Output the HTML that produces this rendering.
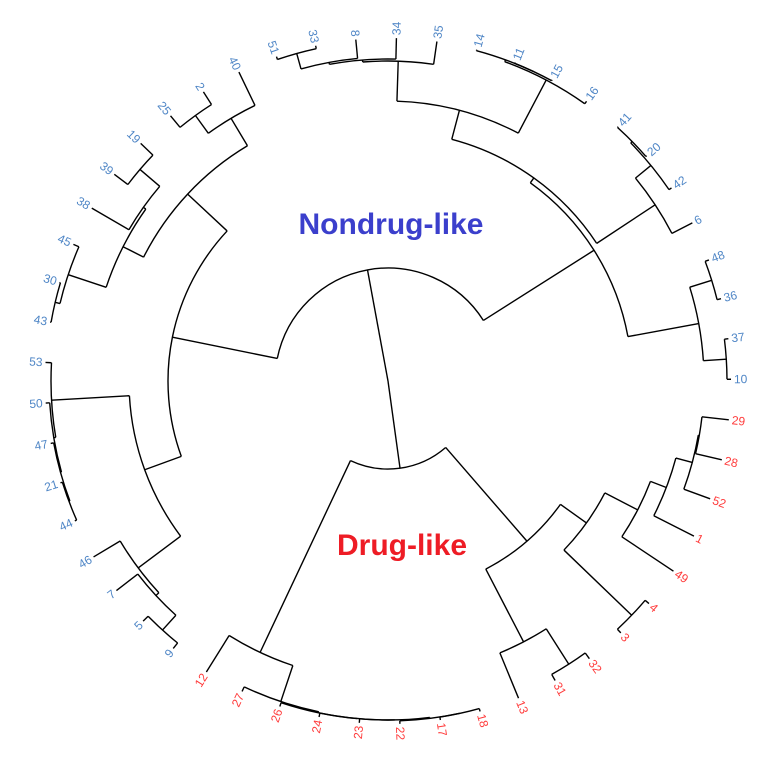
<!DOCTYPE html>
<html><head><meta charset="utf-8">
<style>
html,body{margin:0;padding:0;background:#fff;}
svg{display:block;font-family:"Liberation Sans",sans-serif;}
</style></head>
<body>
<svg id="chart" width="767" height="758" viewBox="0 0 767 758" xmlns="http://www.w3.org/2000/svg">
<rect width="767" height="758" fill="#fff"/>
<g id="branches"></g>
<g id="labels"></g>
<text x="391" y="234" text-anchor="middle" font-size="30" font-weight="bold" fill="#3b3fcc">Nondrug-like</text>
<text x="402" y="555" text-anchor="middle" font-size="30" font-weight="bold" fill="#ee1c25">Drug-like</text>
</svg>
<script>
// leaf order clockwise starting from 29
const leaves = ["29","28","52","1","49","4","3","32","31","13","18","17","22","23","24","26","27","12",
  "9","5","7","46","44","21","47","50","53","43","30","45","38","39","19","25","2","40",
  "51","33","8","34","35","14","11","15","16","41","20","42","6","48","36","37","10"];
const drugLike = ["29","28","52","1","49","4","3","32","31","13","18","17","22","23","24","26","27","12"];
const leafHeight = 343;
const startAngle = 6.5;
// tree: [height, children...]; strings are leaves
const drugTree = [88,
  [212,
    [244,
      [281,
        [298,
          [315, [316,"29","28"], "52"],
          "1"],
        "49"],
      [338,"4","3"]],
    [294, [336,"32","31"], "13"]],
  [300,
    [338,[339,[339,[339,[340,[340,"18","17"],"22"],"23"],"24"],"26"],"27"],
    "12"]];
const nondrugTree = [113,
  [220,
    [259,
      [312, [316, [336,"9","5"], "7"], "46"],
      [337,[339,[340,[341,"44","21"],"47"],"50"],"53"]],
    [274,
      [297, [337,[342,"43","30"],"45"], [300,"38",[326,"39","19"]]],
      [306, [328,"25","2"], "40"]]],
  [244,
    [250,
      [280,
        [320,[322,[324,[340,"51","33"],"8"],"34"],"35"],
        [340,[342,"14",[342,"11","15"]],"16"]],
      [320,[340,[342,"41","20"],"42"],"6"]],
    [316,[339,"48","36"],[339,"37","10"]]]];
const tree = [0, drugTree, nondrugTree];

const cx = 388, cy = 381;
const step = 360 / leaves.length;
const NS = "http://www.w3.org/2000/svg";
const gB = document.getElementById("branches");
const gL = document.getElementById("labels");
function pt(r, a){ const t=a*Math.PI/180; return [cx + r*Math.cos(t), cy + r*Math.sin(t)]; }
function angleOf(node){
  if (typeof node === "string") return startAngle + leaves.indexOf(node)*step;
  const kids = node.slice(1).map(angleOf);
  return (Math.min(...kids) + Math.max(...kids)) / 2;
}
function heightOf(node){ return typeof node === "string" ? leafHeight : node[0]; }
function draw(node){
  if (typeof node === "string") return;
  const h = node[0];
  const kids = node.slice(1);
  const angs = kids.map(angleOf);
  const a0 = Math.min(...angs), a1 = Math.max(...angs);
  if (h > 0) {
    const p0 = pt(h,a0), p1 = pt(h,a1);
    const arc = document.createElementNS(NS,"path");
    arc.setAttribute("d", `M${p0[0]},${p0[1]} A${h},${h} 0 ${a1-a0>180?1:0} 1 ${p1[0]},${p1[1]}`);
    arc.setAttribute("fill","none");
    arc.setAttribute("stroke","#000");
    arc.setAttribute("stroke-width","1.4");
    
    
    gB.appendChild(arc);
  }
  kids.forEach((k,i)=>{
    const a = angs[i];
    const q0 = pt(h,a), q1 = pt(heightOf(k),a);
    const ln = document.createElementNS(NS,"line");
    ln.setAttribute("x1",q0[0]); ln.setAttribute("y1",q0[1]);
    ln.setAttribute("x2",q1[0]); ln.setAttribute("y2",q1[1]);
    ln.setAttribute("stroke","#000");
    ln.setAttribute("stroke-width","1.4");
    
    
    gB.appendChild(ln);
    draw(k);
  });
}
draw(tree);
leaves.forEach((lab,i)=>{
  const a = startAngle + i*step;
  const p = pt(leafHeight + 3, a);
  const t = document.createElementNS(NS,"text");
  const right = Math.cos(a*Math.PI/180) >= 0;
  t.setAttribute("x", p[0]); t.setAttribute("y", p[1]);
  t.setAttribute("font-size","12");
  t.setAttribute("dominant-baseline","central");
  t.setAttribute("text-anchor", right ? "start" : "end");
  t.setAttribute("transform", `rotate(${right ? a : a+180} ${p[0]} ${p[1]})`);
  t.setAttribute("fill", drugLike.includes(lab) ? "#ff3b3b" : "#4f86c6");
  t.textContent = lab;
  
  
  gL.appendChild(t);
});
</script>
</body></html>
